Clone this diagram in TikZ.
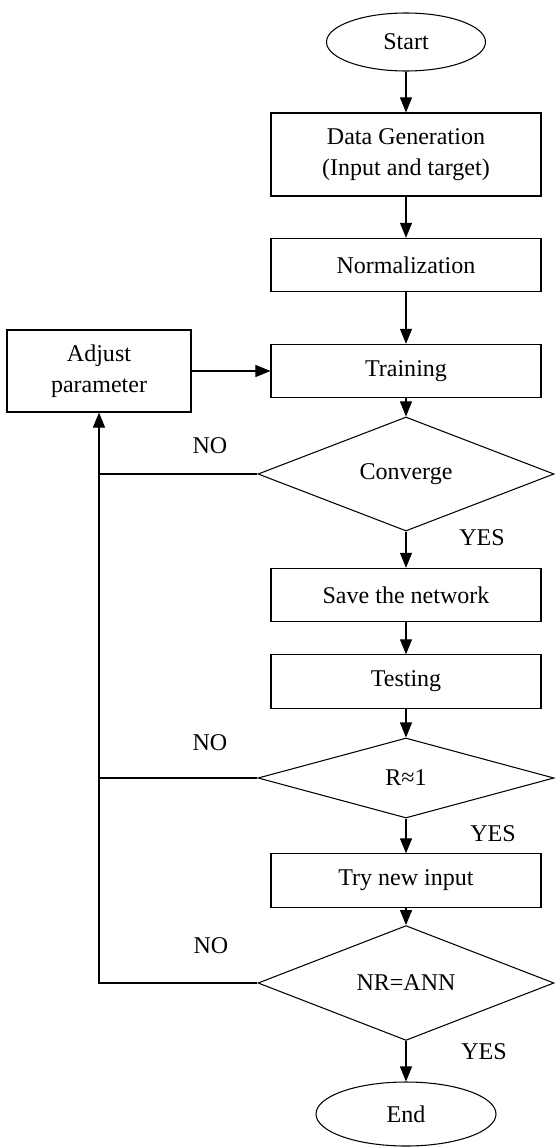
\documentclass[tikz,border=0pt]{standalone}
\usepackage{fontspec}
\setmainfont{Liberation Serif}
\usetikzlibrary{shapes.geometric,arrows.meta}
\tikzset{
  every node/.style={font=\fontsize{20.5}{26}\selectfont},
  stepbox/.style={draw,line width=0.9pt,minimum width=8.1cm,minimum height=1.6cm,align=center,inner sep=0pt},
  decide/.style={draw,diamond,line width=0.9pt,minimum width=8.88cm,minimum height=2.4cm,inner sep=0pt},
  term/.style={draw,ellipse,line width=0.9pt,inner sep=0pt},
  flow/.style={line width=0.9pt,-{Triangle[length=4.5mm,width=3.6mm]}},
  link/.style={line width=0.9pt},
  tag/.style={inner sep=0pt}
}
\begin{document}
  \begin{tikzpicture}[x=0.03cm,y=-0.03cm]
    \useasboundingbox (0,0) rectangle (556,1148);
    \node[term,minimum width=4.77cm,minimum height=1.74cm] (start) at (406,42) {Start};
    \node[stepbox,minimum height=2.49cm] (data) at (406,154.5) {Data Generation\\(Input and target)};
    \node[stepbox] (norm) at (406,265) {Normalization};
    \node[stepbox] (train) at (406,371) {Training};
    \node[stepbox,minimum width=5.52cm,minimum height=2.46cm] (adjust) at (99,371) {Adjust\\parameter};
    \node[decide] (conv) at (406,474) {Converge};
    \node[stepbox] (save) at (406,595) {Save the network};
    \node[stepbox] (test) at (406,681.5) {Testing};
    \node[decide] (rone) at (406,778) {R≈1};
    \node[stepbox] (try) at (406,880.5) {Try new input};
    \node[decide,minimum height=2.55cm] (nrann) at (406,983) {NR=ANN};
    \node[term,minimum width=5.4cm,minimum height=1.92cm] (end) at (406,1114) {End};
    \foreach \n/\x/\y in {no1/210/446,no2/210/743,no3/211/946}{
      \node[tag] (\n) at (\x,\y) {NO};
    }
    \foreach \n/\x/\y in {yes1/482/538,yes2/493/834,yes3/484/1052}{
      \node[tag] (\n) at (\x,\y) {YES};
    }
    \foreach \a/\b in {start/data,data/norm,norm/train,train/conv,conv/save,save/test,test/rone,rone/try,try/nrann,nrann/end}{
      \draw[flow] (\a) -- (\b);
    }
    \draw[flow] (adjust) -- (train);
    \draw[flow] (nrann.west) -| (adjust.south);
    \foreach \p in {conv,rone}{
      \draw[link] (\p.west) -- (\p.west -| adjust.south);
    }
  \end{tikzpicture}
\end{document}
